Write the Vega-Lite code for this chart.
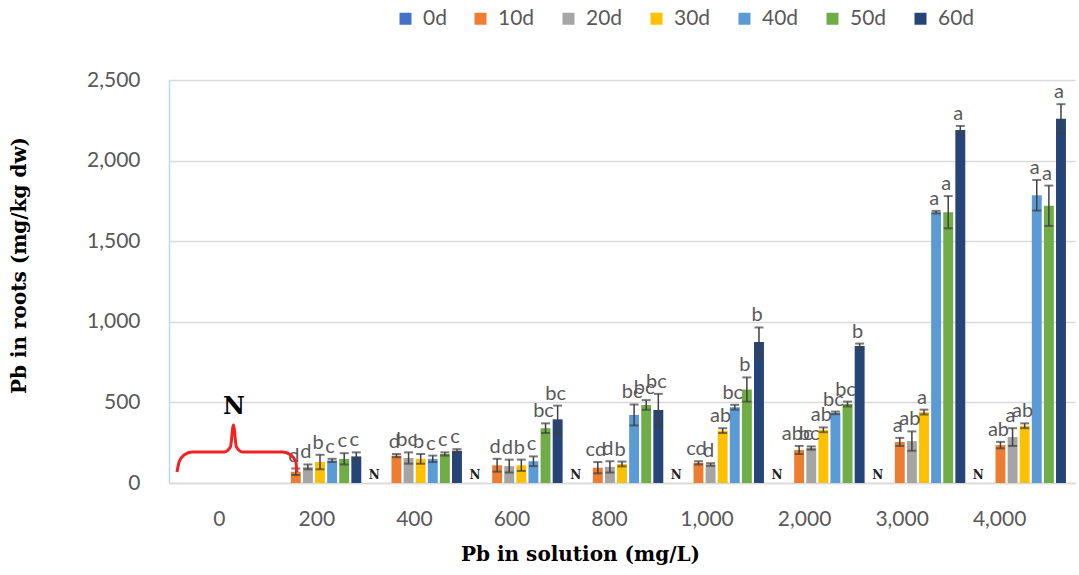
{
  "$schema": "https://vega.github.io/schema/vega-lite/v6.json",
  "width": 906,
  "height": 403,
  "autosize": {"type": "none"},
  "padding": {"left": 169, "top": 80, "right": 4, "bottom": 92},
  "background": "white",
  "config": {"view": {"stroke": null}, "font": "Lato"},
  "datasets": {
    "bars": [
      {"g": "0", "s": "0d", "v": 0, "lo": 0, "hi": 0, "t": "", "n": ""},
      {"g": "0", "s": "10d", "v": 0, "lo": 0, "hi": 0, "t": "", "n": ""},
      {"g": "0", "s": "20d", "v": 0, "lo": 0, "hi": 0, "t": "", "n": ""},
      {"g": "0", "s": "30d", "v": 0, "lo": 0, "hi": 0, "t": "", "n": ""},
      {"g": "0", "s": "40d", "v": 0, "lo": 0, "hi": 0, "t": "", "n": ""},
      {"g": "0", "s": "50d", "v": 0, "lo": 0, "hi": 0, "t": "", "n": ""},
      {"g": "0", "s": "60d", "v": 0, "lo": 0, "hi": 0, "t": "", "n": ""},
      {"g": "200", "s": "0d", "v": 0, "lo": 0, "hi": 0, "t": "", "n": ""},
      {"g": "200", "s": "10d", "v": 70, "lo": 50, "hi": 90, "t": "d", "n": ""},
      {"g": "200", "s": "20d", "v": 100, "lo": 85, "hi": 115, "t": "d", "n": ""},
      {"g": "200", "s": "30d", "v": 130, "lo": 85, "hi": 175, "t": "b", "n": ""},
      {"g": "200", "s": "40d", "v": 140, "lo": 130, "hi": 150, "t": "c", "n": ""},
      {"g": "200", "s": "50d", "v": 150, "lo": 115, "hi": 185, "t": "c", "n": ""},
      {"g": "200", "s": "60d", "v": 165, "lo": 140, "hi": 190, "t": "c", "n": ""},
      {"g": "400", "s": "0d", "v": 0, "lo": 0, "hi": 0, "t": "", "n": "N"},
      {"g": "400", "s": "10d", "v": 170, "lo": 160, "hi": 180, "t": "d", "n": ""},
      {"g": "400", "s": "20d", "v": 155, "lo": 120, "hi": 190, "t": "bc", "n": ""},
      {"g": "400", "s": "30d", "v": 150, "lo": 120, "hi": 180, "t": "b", "n": ""},
      {"g": "400", "s": "40d", "v": 150, "lo": 130, "hi": 170, "t": "c", "n": ""},
      {"g": "400", "s": "50d", "v": 180, "lo": 170, "hi": 190, "t": "c", "n": ""},
      {"g": "400", "s": "60d", "v": 200, "lo": 190, "hi": 210, "t": "c", "n": ""},
      {"g": "600", "s": "0d", "v": 0, "lo": 0, "hi": 0, "t": "", "n": "N"},
      {"g": "600", "s": "10d", "v": 110, "lo": 70, "hi": 150, "t": "d", "n": ""},
      {"g": "600", "s": "20d", "v": 105, "lo": 65, "hi": 145, "t": "d", "n": ""},
      {"g": "600", "s": "30d", "v": 110, "lo": 75, "hi": 145, "t": "b", "n": ""},
      {"g": "600", "s": "40d", "v": 135, "lo": 105, "hi": 165, "t": "c", "n": ""},
      {"g": "600", "s": "50d", "v": 340, "lo": 310, "hi": 370, "t": "bc", "n": ""},
      {"g": "600", "s": "60d", "v": 395, "lo": 310, "hi": 480, "t": "bc", "n": ""},
      {"g": "800", "s": "0d", "v": 0, "lo": 0, "hi": 0, "t": "", "n": "N"},
      {"g": "800", "s": "10d", "v": 95, "lo": 60, "hi": 130, "t": "cd", "n": ""},
      {"g": "800", "s": "20d", "v": 100, "lo": 65, "hi": 135, "t": "d", "n": ""},
      {"g": "800", "s": "30d", "v": 118, "lo": 103, "hi": 133, "t": "b", "n": ""},
      {"g": "800", "s": "40d", "v": 422, "lo": 357, "hi": 487, "t": "bc", "n": ""},
      {"g": "800", "s": "50d", "v": 484, "lo": 454, "hi": 514, "t": "bc", "n": ""},
      {"g": "800", "s": "60d", "v": 453, "lo": 353, "hi": 553, "t": "bc", "n": ""},
      {"g": "1,000", "s": "0d", "v": 0, "lo": 0, "hi": 0, "t": "", "n": "N"},
      {"g": "1,000", "s": "10d", "v": 125, "lo": 115, "hi": 135, "t": "cd", "n": ""},
      {"g": "1,000", "s": "20d", "v": 115, "lo": 107, "hi": 123, "t": "d", "n": ""},
      {"g": "1,000", "s": "30d", "v": 325, "lo": 310, "hi": 340, "t": "ab", "n": ""},
      {"g": "1,000", "s": "40d", "v": 470, "lo": 455, "hi": 485, "t": "bc", "n": ""},
      {"g": "1,000", "s": "50d", "v": 580, "lo": 505, "hi": 655, "t": "b", "n": ""},
      {"g": "1,000", "s": "60d", "v": 875, "lo": 785, "hi": 965, "t": "b", "n": ""},
      {"g": "2,000", "s": "0d", "v": 0, "lo": 0, "hi": 0, "t": "", "n": "N"},
      {"g": "2,000", "s": "10d", "v": 205, "lo": 180, "hi": 230, "t": "abc", "n": ""},
      {"g": "2,000", "s": "20d", "v": 217, "lo": 207, "hi": 227, "t": "bc", "n": ""},
      {"g": "2,000", "s": "30d", "v": 330, "lo": 315, "hi": 345, "t": "ab", "n": ""},
      {"g": "2,000", "s": "40d", "v": 435, "lo": 427, "hi": 443, "t": "bc", "n": ""},
      {"g": "2,000", "s": "50d", "v": 490, "lo": 475, "hi": 505, "t": "bc", "n": ""},
      {"g": "2,000", "s": "60d", "v": 850, "lo": 835, "hi": 865, "t": "b", "n": ""},
      {"g": "3,000", "s": "0d", "v": 0, "lo": 0, "hi": 0, "t": "", "n": "N"},
      {"g": "3,000", "s": "10d", "v": 255, "lo": 230, "hi": 280, "t": "a", "n": ""},
      {"g": "3,000", "s": "20d", "v": 260, "lo": 200, "hi": 320, "t": "ab", "n": ""},
      {"g": "3,000", "s": "30d", "v": 440, "lo": 425, "hi": 455, "t": "a", "n": ""},
      {"g": "3,000", "s": "40d", "v": 1680, "lo": 1672, "hi": 1688, "t": "a", "n": ""},
      {"g": "3,000", "s": "50d", "v": 1680, "lo": 1580, "hi": 1780, "t": "a", "n": ""},
      {"g": "3,000", "s": "60d", "v": 2190, "lo": 2165, "hi": 2215, "t": "a", "n": ""},
      {"g": "4,000", "s": "0d", "v": 0, "lo": 0, "hi": 0, "t": "", "n": "N"},
      {"g": "4,000", "s": "10d", "v": 235, "lo": 215, "hi": 255, "t": "ab", "n": ""},
      {"g": "4,000", "s": "20d", "v": 285, "lo": 230, "hi": 340, "t": "a", "n": ""},
      {"g": "4,000", "s": "30d", "v": 355, "lo": 340, "hi": 370, "t": "ab", "n": ""},
      {"g": "4,000", "s": "40d", "v": 1785, "lo": 1690, "hi": 1880, "t": "a", "n": ""},
      {"g": "4,000", "s": "50d", "v": 1720, "lo": 1595, "hi": 1845, "t": "a", "n": ""},
      {"g": "4,000", "s": "60d", "v": 2260, "lo": 2170, "hi": 2350, "t": "a", "n": ""}
    ],
    "brace": [
      {"u": 0.08, "v": 68},
      {"u": 0.10, "v": 130},
      {"u": 0.15, "v": 174},
      {"u": 0.23, "v": 192},
      {"u": 0.55, "v": 192},
      {"u": 0.61, "v": 223},
      {"u": 0.64, "v": 360},
      {"u": 0.67, "v": 223},
      {"u": 0.73, "v": 192},
      {"u": 1.13, "v": 192},
      {"u": 1.21, "v": 174},
      {"u": 1.26, "v": 130},
      {"u": 1.27, "v": 68}
    ],
    "braceN": [{"u": 0.645, "v": 471, "n": "N"}]
  },
  "layer": [
    {
      "data": {"name": "bars"},
      "encoding": {
        "x": {
          "field": "g",
          "type": "nominal",
          "sort": null,
          "scale": {"domain": ["0", "200", "400", "600", "800", "1,000", "2,000", "3,000", "4,000"], "paddingInner": 0.18, "paddingOuter": 0.09},
          "axis": {
            "title": "Pb in solution (mg/L)",
            "labelAngle": 0,
            "ticks": false,
            "tickSize": 0,
            "domainColor": "#d9d9d9",
            "domainWidth": 1.5,
            "labelColor": "#595959",
            "labelFont": "Lato",
            "labelFontSize": 21,
            "labelPadding": 25,
            "labelOffset": {"expr": "-25*datum.index"},
            "titleFont": "DejaVu Serif",
            "titleFontWeight": "bold",
            "titleFontSize": 20,
            "titleColor": "black",
            "titlePadding": 15,
            "titleX": 411
          }
        },
        "xOffset": {
          "field": "s",
          "type": "nominal",
          "scale": {"domain": ["0d", "10d", "20d", "30d", "40d", "50d", "60d"], "paddingInner": 0.18, "paddingOuter": 0}
        }
      },
      "layer": [
        {
          "mark": {"type": "bar"},
          "encoding": {
            "y": {
              "field": "v",
              "type": "quantitative",
              "scale": {"domain": [0, 2500], "nice": false},
              "axis": {
                "title": "Pb in roots (mg/kg dw)",
                "values": [0, 500, 1000, 1500, 2000, 2500],
                "format": ",.0f",
                "ticks": false,
                "tickSize": 0,
                "domainColor": "#bdd7ee",
                "domainWidth": 1.5,
                "gridColor": "#d9d9d9",
                "gridWidth": 1.5,
                "labelColor": "#595959",
                "labelFont": "Lato",
                "labelFontSize": 21,
                "labelPadding": 29,
                "titleFont": "DejaVu Serif",
                "titleFontWeight": "bold",
                "titleFontSize": 20,
                "titleColor": "black",
                "titlePadding": 57,
                "titleY": 185
              }
            },
            "color": {
              "field": "s",
              "type": "nominal",
              "scale": {
                "domain": ["0d", "10d", "20d", "30d", "40d", "50d", "60d"],
                "range": ["#4472C4", "#ED7D31", "#A5A5A5", "#FFC000", "#5B9BD5", "#70AD47", "#264478"]
              },
              "legend": {
                "orient": "none",
                "legendX": 226,
                "legendY": -72,
                "direction": "horizontal",
                "columns": 7,
                "title": null,
                "symbolType": "square",
                "symbolSize": 144,
                "symbolStrokeWidth": 0,
                "labelFont": "Lato",
                "labelFontSize": 21,
                "labelColor": "#595959",
                "labelOffset": 7,
                "columnPadding": 23
              }
            }
          }
        },
        {
          "transform": [{"filter": "datum.hi > datum.lo"}],
          "mark": {"type": "rule", "color": "#404040", "strokeWidth": 1.5},
          "encoding": {
            "y": {"field": "lo", "type": "quantitative"},
            "y2": {"field": "hi"}
          }
        },
        {
          "transform": [{"filter": "datum.hi > datum.lo"}],
          "mark": {"type": "tick", "orient": "horizontal", "color": "#404040", "thickness": 2, "size": 9},
          "encoding": {"y": {"field": "hi", "type": "quantitative"}}
        },
        {
          "transform": [{"filter": "datum.hi > datum.lo"}],
          "mark": {"type": "tick", "orient": "horizontal", "color": "#404040", "thickness": 2, "size": 9},
          "encoding": {"y": {"field": "lo", "type": "quantitative"}}
        },
        {
          "mark": {"type": "text", "baseline": "bottom", "dy": -2, "dx": -2, "fontSize": 20, "font": "Lato", "color": "#595959"},
          "encoding": {
            "y": {"field": "hi", "type": "quantitative"},
            "text": {"field": "t"}
          }
        },
        {
          "mark": {"type": "text", "baseline": "bottom", "dy": -1, "dx": -10, "fontSize": 12, "font": "DejaVu Serif", "fontWeight": "bold", "color": "#222222"},
          "encoding": {
            "y": {"field": "v", "type": "quantitative"},
            "text": {"field": "n"}
          }
        }
      ]
    },
    {
      "layer": [
        {
          "data": {"name": "brace"},
          "mark": {"type": "line", "color": "#f52020", "strokeWidth": 3, "interpolate": "monotone"},
          "encoding": {
            "x": {"field": "u", "type": "quantitative", "scale": {"domain": [0, 9]}, "axis": null},
            "y": {"field": "v", "type": "quantitative"}
          }
        },
        {
          "data": {"name": "braceN"},
          "mark": {"type": "text", "baseline": "middle", "fontSize": 24, "font": "DejaVu Serif", "fontWeight": "bold", "color": "black"},
          "encoding": {
            "x": {"field": "u", "type": "quantitative", "scale": {"domain": [0, 9]}, "axis": null},
            "y": {"field": "v", "type": "quantitative"},
            "text": {"field": "n"}
          }
        }
      ]
    }
  ],
  "resolve": {"scale": {"x": "independent"}}
}
